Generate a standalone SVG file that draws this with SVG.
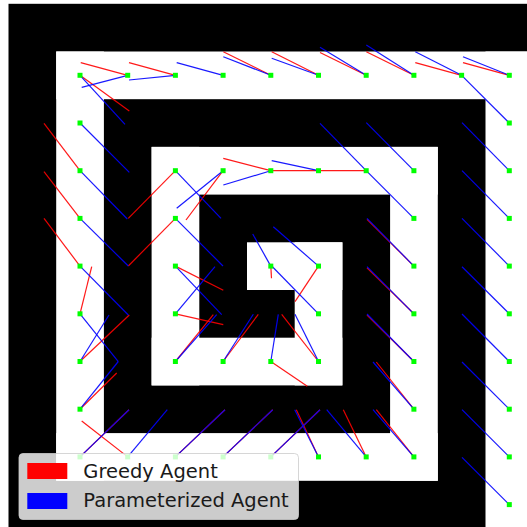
<svg xmlns="http://www.w3.org/2000/svg" width="527" height="527" viewBox="0 0 527 527">
<style>
.wall{fill:#000}
.cor{fill:#fff}
.r{stroke:#f00;stroke-width:1.2;stroke-opacity:0.9;fill:none}
.b{stroke:#00f;stroke-width:1.2;stroke-opacity:0.9;fill:none}
.pt{fill:#00ff00}
.lt{font-family:"DejaVu Sans",sans-serif;font-size:19.5px;fill:#1a1a1a}
</style>
<rect width="527" height="527" fill="#fff"/>
<g id="maze">
<rect class="wall" x="8.5" y="3.8" width="530" height="530"/>
<rect class="cor" x="56.2" y="51.5" width="480" height="47.7"/>
<rect class="cor" x="56.2" y="51.5" width="47.7" height="429.3"/>
<rect class="cor" x="56.2" y="433.1" width="381.6" height="47.7"/>
<rect class="cor" x="390.1" y="146.9" width="47.7" height="333.9"/>
<rect class="cor" x="151.6" y="146.9" width="286.2" height="47.7"/>
<rect class="cor" x="151.6" y="146.9" width="47.7" height="238.5"/>
<rect class="cor" x="151.6" y="337.7" width="190.8" height="47.7"/>
<rect class="cor" x="294.7" y="242.3" width="47.7" height="143.1"/>
<rect class="cor" x="247" y="242.3" width="95.4" height="47.7"/>
<rect class="cor" x="485.5" y="51.5" width="50" height="480"/>
</g>
<g id="connectors">
<g id="greedy">
<line class="r" x1="80" y1="75.3" x2="129.3" y2="111"/>
<line class="r" x1="127.7" y1="75.3" x2="80.7" y2="62.7"/>
<line class="r" x1="175.4" y1="75.3" x2="129" y2="62.7"/>
<line class="r" x1="270.8" y1="75.3" x2="223.3" y2="51.7"/>
<line class="r" x1="318.5" y1="75.3" x2="271.7" y2="51.7"/>
<line class="r" x1="366.2" y1="75.3" x2="320" y2="52.5"/>
<line class="r" x1="413.9" y1="75.3" x2="366.3" y2="51.7"/>
<line class="r" x1="461.6" y1="75.3" x2="415.3" y2="62.7"/>
<line class="r" x1="509.3" y1="75.3" x2="463" y2="62.7"/>
<line class="r" x1="80" y1="170.7" x2="44" y2="123.3"/>
<line class="r" x1="80" y1="218.4" x2="44" y2="171.7"/>
<line class="r" x1="80" y1="266.1" x2="44" y2="218.3"/>
<line class="r" x1="80" y1="313.8" x2="91.7" y2="266.7"/>
<line class="r" x1="80" y1="361.5" x2="129.3" y2="315"/>
<line class="r" x1="80" y1="409.2" x2="116.7" y2="373"/>
<line class="r" x1="80" y1="456.9" x2="129" y2="409.7"/>
<line class="r" x1="127.7" y1="456.9" x2="81.7" y2="421"/>
<line class="r" x1="175.4" y1="456.9" x2="225" y2="409.7"/>
<line class="r" x1="223.1" y1="456.9" x2="272.7" y2="409.7"/>
<line class="r" x1="270.8" y1="456.9" x2="320" y2="409.7"/>
<line class="r" x1="318.5" y1="456.9" x2="296.3" y2="409.7"/>
<line class="r" x1="366.2" y1="456.9" x2="343.3" y2="409.7"/>
<line class="r" x1="413.9" y1="456.9" x2="376.3" y2="409.7"/>
<line class="r" x1="413.9" y1="409.2" x2="376.3" y2="362"/>
<line class="r" x1="413.9" y1="361.5" x2="367" y2="315"/>
<line class="r" x1="413.9" y1="313.8" x2="367" y2="267.7"/>
<line class="r" x1="413.9" y1="266.1" x2="367" y2="219.3"/>
<line class="r" x1="175.4" y1="170.7" x2="128.3" y2="218.3"/>
<line class="r" x1="223.1" y1="170.7" x2="186" y2="220"/>
<line class="r" x1="270.8" y1="170.7" x2="223.3" y2="158.3"/>
<line class="r" x1="318.5" y1="170.7" x2="270.8" y2="170.7"/>
<line class="r" x1="366.2" y1="170.7" x2="318.5" y2="170.7"/>
<line class="r" x1="175.4" y1="218.4" x2="128.3" y2="266"/>
<line class="r" x1="175.4" y1="266.1" x2="223.3" y2="290.3"/>
<line class="r" x1="175.4" y1="313.8" x2="223.3" y2="324.7"/>
<line class="r" x1="175.4" y1="361.5" x2="213.3" y2="314.7"/>
<line class="r" x1="223.1" y1="361.5" x2="258.3" y2="314.3"/>
<line class="r" x1="270.8" y1="361.5" x2="307.3" y2="386.3"/>
<line class="r" x1="318.5" y1="361.5" x2="281.7" y2="314.3"/>
<line class="r" x1="270.8" y1="266.1" x2="271.5" y2="278.3"/>
<line class="r" x1="318.5" y1="266.1" x2="295" y2="301.7"/>
</g>
<g id="parameterized">
<line class="b" x1="80" y1="75.3" x2="125" y2="124.3"/>
<line class="b" x1="127.7" y1="75.3" x2="81.7" y2="87.3"/>
<line class="b" x1="175.4" y1="75.3" x2="129" y2="80"/>
<line class="b" x1="223.1" y1="75.3" x2="176.7" y2="62.7"/>
<line class="b" x1="270.8" y1="75.3" x2="223.3" y2="56.7"/>
<line class="b" x1="318.5" y1="75.3" x2="271.7" y2="58.3"/>
<line class="b" x1="366.2" y1="75.3" x2="320" y2="47.3"/>
<line class="b" x1="413.9" y1="75.3" x2="366.3" y2="45"/>
<line class="b" x1="461.6" y1="75.3" x2="415.3" y2="51.7"/>
<line class="b" x1="509.3" y1="75.3" x2="463" y2="56.7"/>
<line class="b" x1="509.3" y1="123" x2="461.6" y2="75.3"/>
<line class="b" x1="509.3" y1="170.7" x2="462" y2="122.7"/>
<line class="b" x1="509.3" y1="218.4" x2="462" y2="170.7"/>
<line class="b" x1="509.3" y1="266.1" x2="462" y2="218.3"/>
<line class="b" x1="509.3" y1="313.8" x2="462" y2="266.7"/>
<line class="b" x1="509.3" y1="361.5" x2="462" y2="314"/>
<line class="b" x1="509.3" y1="409.2" x2="462" y2="362"/>
<line class="b" x1="509.3" y1="456.9" x2="462" y2="409.7"/>
<line class="b" x1="509.3" y1="504.6" x2="462" y2="457.3"/>
<line class="b" x1="80" y1="123" x2="129.3" y2="172.3"/>
<line class="b" x1="80" y1="170.7" x2="127.3" y2="219"/>
<line class="b" x1="80" y1="218.4" x2="128.3" y2="266"/>
<line class="b" x1="80" y1="266.1" x2="128.3" y2="315"/>
<line class="b" x1="80" y1="313.8" x2="118.3" y2="361.7"/>
<line class="b" x1="80" y1="361.5" x2="109" y2="315"/>
<line class="b" x1="80" y1="409.2" x2="118.3" y2="361.5"/>
<line class="b" x1="80" y1="456.9" x2="129" y2="409.7"/>
<line class="b" x1="127.7" y1="456.9" x2="167.3" y2="409.7"/>
<line class="b" x1="175.4" y1="456.9" x2="225" y2="409.7"/>
<line class="b" x1="223.1" y1="456.9" x2="272.7" y2="409.7"/>
<line class="b" x1="270.8" y1="456.9" x2="320" y2="409.7"/>
<line class="b" x1="318.5" y1="456.9" x2="294.7" y2="409.7"/>
<line class="b" x1="366.2" y1="456.9" x2="326.7" y2="409.7"/>
<line class="b" x1="413.9" y1="456.9" x2="373" y2="409.7"/>
<line class="b" x1="413.9" y1="409.2" x2="373" y2="362"/>
<line class="b" x1="413.9" y1="361.5" x2="367" y2="314"/>
<line class="b" x1="413.9" y1="313.8" x2="367" y2="266.7"/>
<line class="b" x1="413.9" y1="266.1" x2="367" y2="218.3"/>
<line class="b" x1="413.9" y1="218.4" x2="366.2" y2="170.7"/>
<line class="b" x1="413.9" y1="170.7" x2="366.3" y2="122.7"/>
<line class="b" x1="175.4" y1="170.7" x2="221" y2="218.3"/>
<line class="b" x1="223.1" y1="170.7" x2="176.7" y2="208.3"/>
<line class="b" x1="270.8" y1="170.7" x2="223.3" y2="185"/>
<line class="b" x1="318.5" y1="170.7" x2="271.7" y2="160.7"/>
<line class="b" x1="366.2" y1="170.7" x2="320" y2="123.3"/>
<line class="b" x1="175.4" y1="218.4" x2="223" y2="266"/>
<line class="b" x1="175.4" y1="266.1" x2="221.7" y2="314.7"/>
<line class="b" x1="175.4" y1="313.8" x2="215" y2="266.7"/>
<line class="b" x1="175.4" y1="361.5" x2="216.7" y2="314.7"/>
<line class="b" x1="223.1" y1="361.5" x2="253.3" y2="314.3"/>
<line class="b" x1="270.8" y1="361.5" x2="278.3" y2="314.3"/>
<line class="b" x1="318.5" y1="361.5" x2="295" y2="314.3"/>
<line class="b" x1="270.8" y1="266.1" x2="252.7" y2="234"/>
<line class="b" x1="318.5" y1="266.1" x2="273.3" y2="226.7"/>
<line class="b" x1="318.5" y1="313.8" x2="271.7" y2="266"/>
</g>
</g>
<g id="points">
<g id="p1-1"><rect class="pt" x="77.5" y="72.8" width="5" height="5"/></g>
<g id="p2-1"><rect class="pt" x="125.2" y="72.8" width="5" height="5"/></g>
<g id="p3-1"><rect class="pt" x="172.9" y="72.8" width="5" height="5"/></g>
<g id="p4-1"><rect class="pt" x="220.6" y="72.8" width="5" height="5"/></g>
<g id="p5-1"><rect class="pt" x="268.3" y="72.8" width="5" height="5"/></g>
<g id="p6-1"><rect class="pt" x="316" y="72.8" width="5" height="5"/></g>
<g id="p7-1"><rect class="pt" x="363.7" y="72.8" width="5" height="5"/></g>
<g id="p8-1"><rect class="pt" x="411.4" y="72.8" width="5" height="5"/></g>
<g id="p9-1"><rect class="pt" x="459.1" y="72.8" width="5" height="5"/></g>
<g id="p10-1"><rect class="pt" x="506.8" y="72.8" width="5" height="5"/></g>
<g id="p10-2"><rect class="pt" x="506.8" y="120.5" width="5" height="5"/></g>
<g id="p10-3"><rect class="pt" x="506.8" y="168.2" width="5" height="5"/></g>
<g id="p10-4"><rect class="pt" x="506.8" y="215.9" width="5" height="5"/></g>
<g id="p10-5"><rect class="pt" x="506.8" y="263.6" width="5" height="5"/></g>
<g id="p10-6"><rect class="pt" x="506.8" y="311.3" width="5" height="5"/></g>
<g id="p10-7"><rect class="pt" x="506.8" y="359" width="5" height="5"/></g>
<g id="p10-8"><rect class="pt" x="506.8" y="406.7" width="5" height="5"/></g>
<g id="p10-9"><rect class="pt" x="506.8" y="454.4" width="5" height="5"/></g>
<g id="p10-10"><rect class="pt" x="506.8" y="502.1" width="5" height="5"/></g>
<g id="p1-2"><rect class="pt" x="77.5" y="120.5" width="5" height="5"/></g>
<g id="p1-3"><rect class="pt" x="77.5" y="168.2" width="5" height="5"/></g>
<g id="p1-4"><rect class="pt" x="77.5" y="215.9" width="5" height="5"/></g>
<g id="p1-5"><rect class="pt" x="77.5" y="263.6" width="5" height="5"/></g>
<g id="p1-6"><rect class="pt" x="77.5" y="311.3" width="5" height="5"/></g>
<g id="p1-7"><rect class="pt" x="77.5" y="359" width="5" height="5"/></g>
<g id="p1-8"><rect class="pt" x="77.5" y="406.7" width="5" height="5"/></g>
<g id="p1-9"><rect class="pt" x="77.5" y="454.4" width="5" height="5"/></g>
<g id="p2-9"><rect class="pt" x="125.2" y="454.4" width="5" height="5"/></g>
<g id="p3-9"><rect class="pt" x="172.9" y="454.4" width="5" height="5"/></g>
<g id="p4-9"><rect class="pt" x="220.6" y="454.4" width="5" height="5"/></g>
<g id="p5-9"><rect class="pt" x="268.3" y="454.4" width="5" height="5"/></g>
<g id="p6-9"><rect class="pt" x="316" y="454.4" width="5" height="5"/></g>
<g id="p7-9"><rect class="pt" x="363.7" y="454.4" width="5" height="5"/></g>
<g id="p8-9"><rect class="pt" x="411.4" y="454.4" width="5" height="5"/></g>
<g id="p8-8"><rect class="pt" x="411.4" y="406.7" width="5" height="5"/></g>
<g id="p8-7"><rect class="pt" x="411.4" y="359" width="5" height="5"/></g>
<g id="p8-6"><rect class="pt" x="411.4" y="311.3" width="5" height="5"/></g>
<g id="p8-5"><rect class="pt" x="411.4" y="263.6" width="5" height="5"/></g>
<g id="p8-4"><rect class="pt" x="411.4" y="215.9" width="5" height="5"/></g>
<g id="p8-3"><rect class="pt" x="411.4" y="168.2" width="5" height="5"/></g>
<g id="p7-3"><rect class="pt" x="363.7" y="168.2" width="5" height="5"/></g>
<g id="p6-3"><rect class="pt" x="316" y="168.2" width="5" height="5"/></g>
<g id="p5-3"><rect class="pt" x="268.3" y="168.2" width="5" height="5"/></g>
<g id="p4-3"><rect class="pt" x="220.6" y="168.2" width="5" height="5"/></g>
<g id="p3-3"><rect class="pt" x="172.9" y="168.2" width="5" height="5"/></g>
<g id="p3-4"><rect class="pt" x="172.9" y="215.9" width="5" height="5"/></g>
<g id="p3-5"><rect class="pt" x="172.9" y="263.6" width="5" height="5"/></g>
<g id="p3-6"><rect class="pt" x="172.9" y="311.3" width="5" height="5"/></g>
<g id="p3-7"><rect class="pt" x="172.9" y="359" width="5" height="5"/></g>
<g id="p4-7"><rect class="pt" x="220.6" y="359" width="5" height="5"/></g>
<g id="p5-7"><rect class="pt" x="268.3" y="359" width="5" height="5"/></g>
<g id="p6-7"><rect class="pt" x="316" y="359" width="5" height="5"/></g>
<g id="p6-6"><rect class="pt" x="316" y="311.3" width="5" height="5"/></g>
<g id="p6-5"><rect class="pt" x="316" y="263.6" width="5" height="5"/></g>
<g id="p5-5"><rect class="pt" x="268.3" y="263.6" width="5" height="5"/></g>
</g>
<g id="legend">
<rect x="19" y="453.5" width="279.5" height="66" rx="4" fill="#fff" fill-opacity="0.8" stroke="#ccc" stroke-opacity="0.8" stroke-width="1"/>
<rect x="27.3" y="463" width="40" height="16" fill="#f00"/>
<rect x="27.3" y="493" width="40" height="16" fill="#00f"/>
<text class="lt" x="83.3" y="477.5">Greedy Agent</text>
<text class="lt" x="83.3" y="507.3">Parameterized Agent</text>
</g>
</svg>
